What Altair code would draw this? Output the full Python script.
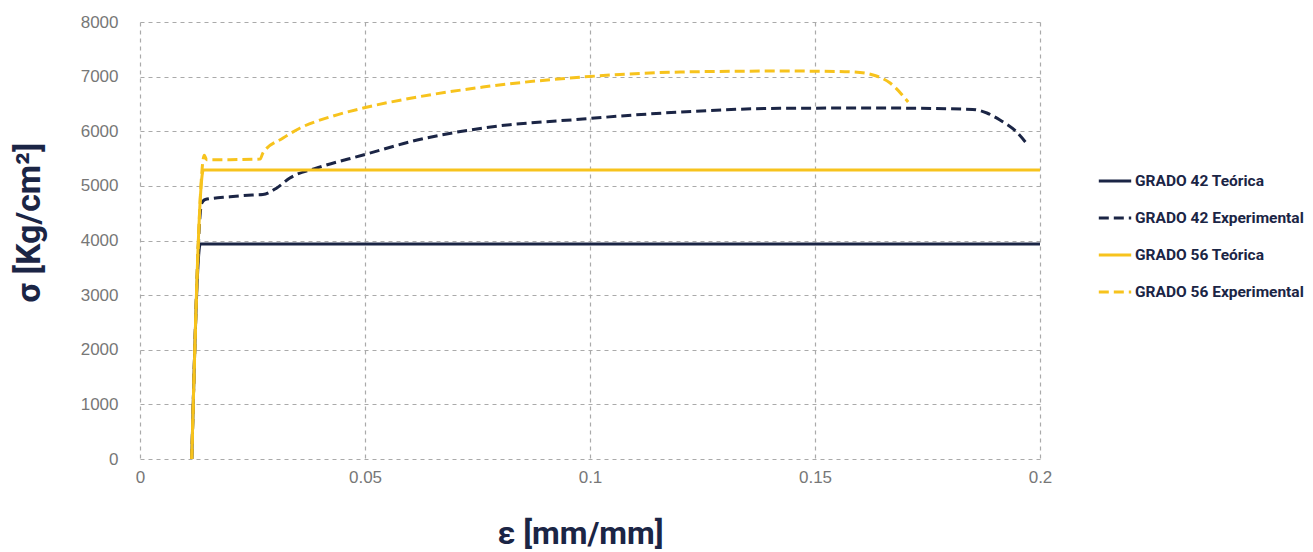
import altair as alt
import pandas as pd

# ---- data ----
series_names = ["GRADO 42 Teórica", "GRADO 42 Experimental",
                "GRADO 56 Teórica", "GRADO 56 Experimental"]

eps_42_teo = [0.0115, 0.0134, 0.2]
sig_42_teo = [0, 3935, 3935]

eps_56_teo = [0.0115, 0.0141, 0.2]
sig_56_teo = [0, 5290, 5290]

eps_42_exp = [0.0115, 0.0137, 0.0145, 0.020, 0.0249, 0.0273, 0.0304, 0.0333,
              0.0393, 0.0496, 0.0616, 0.0762, 0.0984, 0.120, 0.1422, 0.1644,
              0.185, 0.1882, 0.1911, 0.1945, 0.1973]
sig_42_exp = [0, 4680, 4750, 4800, 4832, 4840, 4961, 5144,
              5327, 5565, 5839, 6059, 6224, 6352, 6420, 6425,
              6400, 6334, 6205, 6010, 5748]

eps_56_exp = [0.0115, 0.0143, 0.0148, 0.020, 0.0267, 0.0273, 0.0318, 0.0356,
              0.0429, 0.0496, 0.0616, 0.0762, 0.0984, 0.120, 0.1422, 0.155,
              0.1600, 0.1629, 0.1667, 0.1707]
sig_56_exp = [0, 5560, 5480, 5480, 5491, 5601, 5876, 6059,
              6279, 6425, 6626, 6809, 6993, 7084, 7102, 7095,
              7075, 7030, 6883, 6535]

x_ticks = [0, 0.05, 0.1, 0.15, 0.2]
y_ticks = [0, 1000, 2000, 3000, 4000, 5000, 6000, 7000, 8000]

navy = "#1b2545"
yellow = "#f7c31d"

rows = []
for name, xs, ys in [
    (series_names[0], eps_42_teo, sig_42_teo),
    (series_names[1], eps_42_exp, sig_42_exp),
    (series_names[2], eps_56_teo, sig_56_teo),
    (series_names[3], eps_56_exp, sig_56_exp),
]:
    for i, (x, y) in enumerate(zip(xs, ys)):
        rows.append({"serie": name, "eps": x, "sigma": y, "idx": i})
df = pd.DataFrame(rows)

label_font = "Liberation Sans"
title_font = "Roboto"

chart = alt.Chart(df).mark_line(strokeWidth=3, interpolate="monotone").encode(
    x=alt.X("eps:Q",
            scale=alt.Scale(domain=[0, 0.2], nice=False),
            axis=alt.Axis(values=x_ticks, format="~g", title="ε [mm/mm]",
                          titlePadding=33, titleX=440, labelFlush=False)),
    y=alt.Y("sigma:Q",
            scale=alt.Scale(domain=[0, 8000], nice=False),
            axis=alt.Axis(values=y_ticks, format="d", title="σ [Kg/cm²]",
                          titlePadding=34, titleY=200, titleFontSize=34)),
    color=alt.Color("serie:N",
                    scale=alt.Scale(domain=series_names,
                                    range=[navy, navy, yellow, yellow]),
                    legend=alt.Legend(title=None)),
    strokeDash=alt.StrokeDash("serie:N",
                              scale=alt.Scale(domain=series_names,
                                              range=[[1, 0], [10, 5], [1, 0], [10, 5]]),
                              legend=alt.Legend(title=None)),
    order=alt.Order("idx:Q"),
).properties(
    width=900,
    height=437,
    autosize=alt.AutoSizeParams(type="none"),
    padding={"left": 132, "top": 14, "right": 265, "bottom": 95},
).configure_view(
    stroke=None
).configure_axis(
    domain=False,
    ticks=False,
    grid=True,
    gridColor="#aaaaaa",
    gridDash=[4, 4],
    gridWidth=1.2,
    labelFont=label_font,
    labelFontSize=17,
    labelColor="#777777",
    titleFont=title_font,
    titleFontSize=32,
    titleFontWeight="bold",
    titleColor=navy,
).configure_axisY(
    labelPadding=22,
).configure_axisX(
    labelPadding=10,
).configure_legend(
    orient="none",
    legendX=957,
    legendY=141,
    symbolType="stroke",
    symbolSize=1050,
    symbolStrokeWidth=3,
    labelFont=title_font,
    labelFontSize=15.5,
    labelFontWeight="bold",
    labelColor=navy,
    labelOffset=2,
    rowPadding=10,
    labelLimit=300,
)

chart.save("out.html", embed_options={"renderer": "svg", "actions": False})
